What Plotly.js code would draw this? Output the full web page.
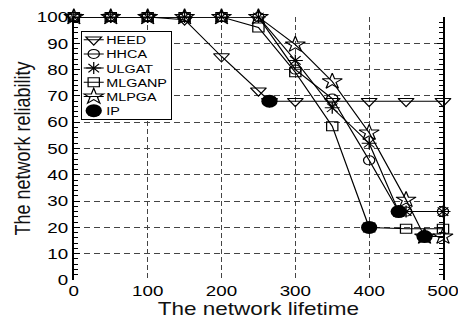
<!DOCTYPE html>
<html>
<head>
<meta charset="utf-8">
<script src="https://cdn.plot.ly/plotly-3.0.1.min.js"></script>
<style>
  html, body { margin: 0; padding: 0; background: #fff; overflow: hidden; }
  /* the figure is laid out narrow and widened horizontally */
  #chart { width: 366px; height: 325px; transform: scaleX(1.2514); transform-origin: 0 0; }
</style>
</head>
<body>
<div id="chart"></div>
<script>
// Network reliability versus network lifetime for each clustering scheme
const heedX   = [0, 50, 100, 150, 200, 250, 265, 300, 350, 400, 450, 500];
const heedY   = [100, 100, 100, 99, 85, 72, 68, 68, 68, 68, 68, 68];

const hhcaX   = [0, 50, 100, 150, 200, 250, 300, 350, 400, 440, 450, 500];
const hhcaY   = [100, 100, 100, 100, 100, 100, 80, 69, 45.5, 26, 26, 26];

const ulgatX  = [0, 50, 100, 150, 200, 250, 300, 350, 400, 440, 450, 500];
const ulgatY  = [100, 100, 100, 100, 100, 100, 83.5, 65.5, 52, 26, 26, 26];

const mlganpX = [0, 50, 100, 150, 200, 250, 300, 350, 400, 450, 500];
const mlganpY = [100, 100, 100, 100, 100, 96, 79, 58.5, 20, 19.5, 19.5];

const mlpgaX  = [0, 50, 100, 150, 200, 250, 300, 350, 400, 450, 475, 500];
const mlpgaY  = [100, 100, 100, 100, 100, 100, 89.5, 75.5, 56, 30.5, 16.5, 16.5];

// lifetime end point of each scheme
const ipX     = [265, 400, 440, 475];
const ipY     = [68, 20, 26, 16.5];

const xTicks  = [0, 100, 200, 300, 400, 500];
const yTicks  = [0, 10, 20, 30, 40, 50, 60, 70, 80, 90, 100];

const FONT = 'Liberation Sans, Arial, Helvetica, sans-serif';

function lineTrace(name, x, y, symbol, size) {
  return {
    type: 'scatter', mode: 'lines+markers', name: name, x: x, y: y,
    line: { color: '#000', width: 1 },
    marker: { symbol: symbol, size: size, color: '#000', line: { color: '#000', width: 1 } },
    cliponaxis: false
  };
}

const traces = [
  lineTrace('HEED', heedX, heedY, 'triangle-down-open', 11),
  lineTrace('HHCA', hhcaX, hhcaY, 'circle-open', 9),
  lineTrace('ULGAT', ulgatX, ulgatY, 'asterisk-open', 10),
  lineTrace('MLGANP', mlganpX, mlganpY, 'square-open', 9),
  lineTrace('MLPGA', mlpgaX, mlpgaY, 'star-open', 12),
  {
    type: 'scatter', mode: 'markers', name: 'IP', x: ipX, y: ipY,
    marker: { symbol: 'circle', size: 13, color: '#000' },
    cliponaxis: false
  }
];

const layout = {
  width: 366, height: 325,
  margin: { l: 59, r: 12, t: 17, b: 45 },
  paper_bgcolor: '#fff', plot_bgcolor: '#fff',
  font: { family: FONT, color: '#000', size: 15 },
  showlegend: true,
  legend: {
    x: 0.02, y: 0.948, xanchor: 'left', yanchor: 'top',
    bgcolor: '#fff', bordercolor: '#000', borderwidth: 1,
    font: { family: FONT, size: 11.5, color: '#000' },
    tracegroupgap: 0, itemwidth: 30
  },
  xaxis: {
    range: [0, 500], tickvals: xTicks, ticktext: xTicks.map(String),
    ticks: '', showline: false, ticklabeloverflow: 'allow',
    showgrid: true, gridcolor: '#444', gridwidth: 1, griddash: '5px,3px',
    zeroline: false,
    tickfont: { family: FONT, size: 15, color: '#000' },
    title: { text: 'The network lifetime', font: { family: FONT, size: 18, color: '#111' }, standoff: 3 }
  },
  yaxis: {
    range: [0, 100], tickvals: yTicks, ticktext: yTicks.map(String),
    ticks: 'inside', ticklen: 5, tickcolor: '#000', tickwidth: 1,
    minor: { dtick: 2, ticks: 'inside', ticklen: 3, tickcolor: '#000', showgrid: false },
    showline: true, linecolor: '#000', linewidth: 1.5, mirror: 'ticks',
    showgrid: true, gridcolor: '#444', gridwidth: 1, griddash: '5px,3px',
    zeroline: false,
    tickfont: { family: FONT, size: 15, color: '#000' },
    title: { text: 'The network reliability', font: { family: FONT, size: 18, color: '#111' }, standoff: 0 }
  }
};

// Tighten the legend: closer rows, shorter symbol lines, text nearer the symbol.
function compactLegend(gd) {
  const leg = gd.querySelector('g.legend');
  if (!leg) return;
  const rowStep = 14.2, firstRow = 9, lastPad = 8;
  const items = leg.querySelectorAll('g.traces');
  let maxText = 0;
  items.forEach((g, i) => {
    g.setAttribute('transform', 'translate(1,' + (firstRow + i * rowStep) + ')');
    g.querySelectorAll('g.legendlines path').forEach(p => p.setAttribute('d', 'M1,0h16'));
    g.querySelectorAll('g.legendpoints path').forEach(p => p.setAttribute('transform', 'translate(9,0)'));
    const t = g.querySelector('text.legendtext');
    if (t) {
      t.setAttribute('x', 19);
      t.querySelectorAll('tspan').forEach(s => { if (s.hasAttribute('x')) s.setAttribute('x', 19); });
      maxText = Math.max(maxText, t.getBBox().width);
    }
  });
  const bg = leg.querySelector('rect.bg');
  if (bg) {
    bg.setAttribute('height', firstRow + (items.length - 1) * rowStep + lastPad);
    bg.setAttribute('width', 19 + maxText + 4);
  }
}

Plotly.newPlot('chart', traces, layout, { displayModeBar: false, staticPlot: true })
  .then(compactLegend);
</script>
</body>
</html>
